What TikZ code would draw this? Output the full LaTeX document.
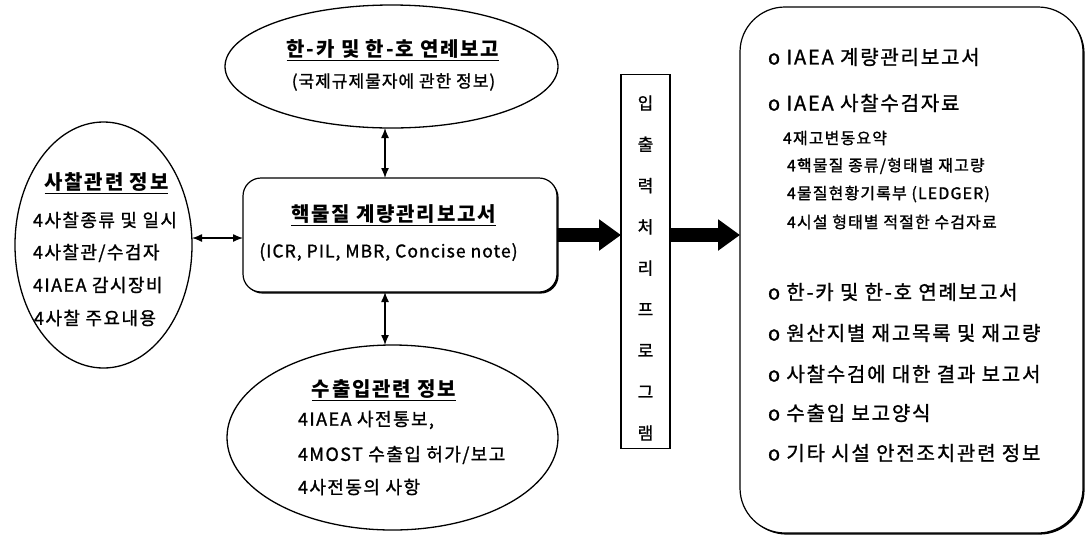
\documentclass[tikz,border=0pt]{standalone}
\usepackage{fontspec}
\setmainfont{Noto Sans CJK KR}[LetterSpace=6,UprightFeatures={FakeBold=1.2}]
\usetikzlibrary{arrows.meta,shapes.geometric,shadows}
\begin{document}
\begin{tikzpicture}[x=1pt,y=-1pt,
  every node/.style={inner sep=0pt,outer sep=0pt},
  ell/.style={draw,ellipse,line width=1.3pt,inner sep=0pt},
  titletext/.style={font=\fontsize{20}{24}\selectfont\bfseries\addfontfeatures{LetterSpace=9}},
  subtext/.style={font=\fontsize{17}{20}\selectfont},
  listtext/.style={font=\fontsize{18}{20}\selectfont\addfontfeatures{LetterSpace=8},anchor=west},
  mainitem/.style={font=\fontsize{20}{24}\selectfont\addfontfeatures{LetterSpace=9},anchor=west},
  subitem/.style={font=\fontsize{16}{20}\selectfont\addfontfeatures{LetterSpace=7},anchor=west},
  shadowbox/.style={draw,line width=1.2pt,fill=white,
    drop shadow={shadow xshift=1.6pt,shadow yshift=-1.6pt,fill=black,opacity=1}},
  dbl/.style={line width=1.3pt,{Latex[length=10pt,width=8pt]}-{Latex[length=10pt,width=8pt]}},
  bigarrow/.style={line width=14pt,-{Triangle[length=22pt,width=30pt]}}]
\useasboundingbox (0,0) rectangle (1086,539);

% left ellipse
\node[ell,minimum width=177pt,minimum height=246pt] (lell) at (103.5,245) {};
\node[titletext] (lt) at (106.5,183) {\underline{사찰관련 정보}};
\node[listtext] (l1) at (33,220) {4사찰종류 및 일시};
\node[listtext] (l2) at (33,253) {4사찰관/수검자};
\node[listtext] (l3) at (33,285) {4IAEA 감시장비};
\node[listtext] (l4) at (34,318) {4사찰 주요내용};

% top ellipse
\node[ell,minimum width=333pt,minimum height=123pt] (tell) at (391.5,66.5) {};
\node[titletext] (tt) at (393,50) {\underline{한-카 및 한-호 연례보고}};
\node[subtext] (ts) at (393.5,82) {(국제규제물자에 관한 정보)};

% center box
\node[shadowbox,rounded corners=18pt,minimum width=314pt,minimum height=114pt] (box) at (400,235) {};
\node[titletext] (bt) at (393.5,215) {\underline{핵물질 계량관리보고서}};
\node[font=\fontsize{17.5}{22}\selectfont] (bs) at (388.5,252) {(ICR, PIL, MBR, Concise note)};

% bottom ellipse
\node[ell,minimum width=331pt,minimum height=185pt] (bell) at (392.5,437.5) {};
\node[titletext] (btt) at (384,390) {\underline{수출입관련 정보}};
\node[listtext] (b1) at (298,420) {4IAEA 사전통보,};
\node[listtext] (b2) at (298,455) {4MOST 수출입 허가/보고};
\node[listtext] (b3) at (298,487) {4사전동의 사항};

% vertical program box
\node[draw,line width=1.2pt,minimum width=49pt,minimum height=374pt] (vbox) at (645.5,261.5) {};
\node[font=\fontsize{17}{41.25}\selectfont,align=center] (vt) at (645.5,268)
  {입\\출\\력\\처\\리\\프\\로\\그\\램};

% right output box
\node[shadowbox,rounded corners=45pt,minimum width=343pt,minimum height=526pt] (rbox) at (911.5,270) {};
\node[mainitem] (r1) at (768,57) {o IAEA 계량관리보고서};
\node[mainitem] (r2) at (768,103) {o IAEA 사찰수검자료};
\node[subitem] (s1) at (783,138) {4재고변동요약};
\node[subitem] (s2) at (787,166) {4핵물질 종류/형태별 재고량};
\node[subitem] (s3) at (787,194) {4물질현황기록부 (LEDGER)};
\node[subitem] (s4) at (787,222) {4시설 형태별 적절한 수검자료};
\node[mainitem] (r3) at (768,292) {o 한-카 및 한-호 연례보고서};
\node[mainitem] (r4) at (768,333) {o 원산지별 재고목록 및 재고량};
\node[mainitem] (r5) at (768,374) {o 사찰수검에 대한 결과 보고서};
\node[mainitem] (r6) at (768,413) {o 수출입 보고양식};
\node[mainitem] (r7) at (768,453) {o 기타 시설 안전조치관련 정보};

% connectors
\coordinate (hy) at (0,238);
\coordinate (vx) at (385,0);
\draw[dbl] (lell.east |- hy) -- (box.west |- hy);
\draw[dbl] (tell.south -| vx) -- (box.north -| vx);
\draw[dbl] (box.south -| vx) -- (bell.north -| vx);
\draw[bigarrow] (box.east) -- (box.east -| vbox.west);
\draw[bigarrow] (vbox.east |- box.east) -- (rbox.west |- box.east);
\end{tikzpicture}
\end{document}
